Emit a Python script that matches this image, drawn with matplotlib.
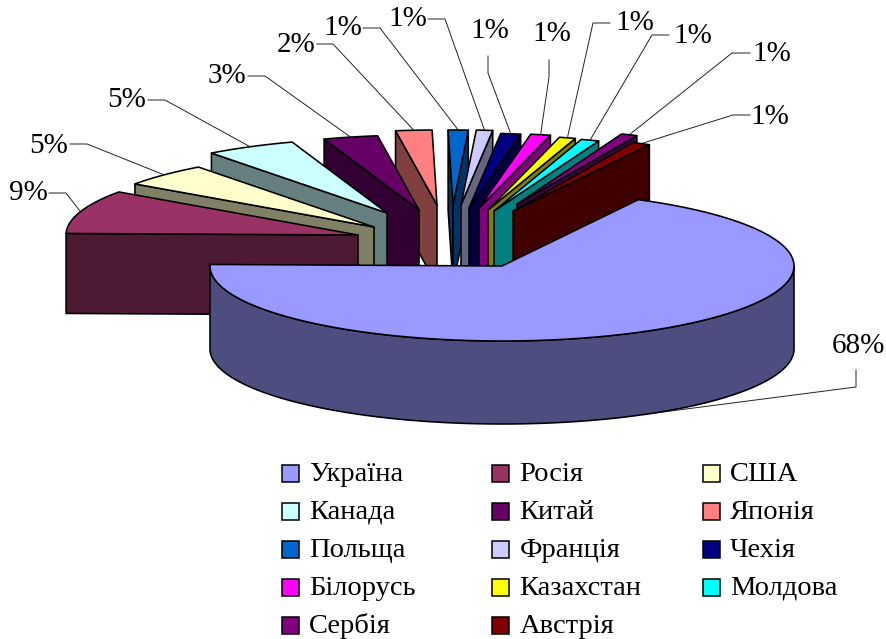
import numpy as np
import matplotlib
matplotlib.use("Agg")
import matplotlib.pyplot as plt
from matplotlib.patches import Polygon, Rectangle

# ---- data ----
countries = ["Україна", "Росія", "США", "Канада", "Китай", "Японія", "Польща",
             "Франція", "Чехія", "Білорусь", "Казахстан", "Молдова", "Сербія", "Австрія"]
shares = [67.6, 9.4, 5.0, 5.0, 3.0, 2.0, 1.1, 0.9, 1.1, 1.1, 0.9, 1.0, 0.9, 1.0]

# ---- style ----
colors = ["#9999FF", "#993366", "#FFFFCC", "#CCFFFF", "#660066", "#FF8080", "#0066CC",
          "#CCCCFF", "#000080", "#FF00FF", "#FFFF00", "#00FFFF", "#800080", "#800000"]
# per-slice explode distance, as in pie(explode=...), split into two screen components
explode_x = [50, -94, -78, -65, -33, -15, 1, 9, 17, 27, 36, 42, 65, 61]
explode_y = [26, -5, -13, -27, -30, -35, -35, -35, -32, -32, -30, -29, -36, -29]
depths = [83] + [80] * 13
PIE_X, PIE_Y = 452, 240
RX, RY = 292, 75
END_ANGLE = -181.2          # clockwise angle where the first slice ends
LW = 1.15

# label centre, leader start, leader elbow (annotation layout)
label_xy = [(858, 346), (28, 193), (49, 146), (127, 100), (227, 76), (296, 45), (343, 28),
            (408, 19), (490, 31), (552, 34), (635, 23), (693, 36), (772, 54), (770, 117)]
leader_start = [(856, 370), (49, 193), (70, 144), (148, 100), (248, 76), (317, 44), (363, 28),
                (428, 19), (488, 56), (549, 60), (610, 23), (669, 35), (750, 53), (750, 115)]
leader_elbow = [(856, 387), (66, 193), (87, 144), (165, 100), (265, 76), (333, 44), (380, 28),
                (445, 19), (488, 73), (549, 77), (593, 23), (652, 35), (732, 53), (733, 115)]

plt.rcParams["font.family"] = ["Liberation Serif", "DejaVu Serif"]
fig = plt.figure(figsize=(8.86, 6.39), dpi=100)
ax = fig.add_axes([0, 0, 1, 1])
ax.set_xlim(0, 886)
ax.set_ylim(639, 0)
ax.axis("off")

vals = np.array(shares, dtype=float)
sweep = vals / vals.sum() * 360.0
first_start = END_ANGLE + sweep[0]
starts = first_start - np.concatenate(([0], np.cumsum(sweep)[:-1]))
ends = starts - sweep
centers = [(PIE_X + dx, PIE_Y + dy) for dx, dy in zip(explode_x, explode_y)]


def rim(c, a):
    a = np.radians(a)
    return np.column_stack((c[0] + RX * np.cos(a), c[1] - RY * np.sin(a)))


def dark(col):
    return tuple(0.5 * v for v in matplotlib.colors.to_rgb(col))


def poly(pts, fc, z):
    ax.add_patch(Polygon(pts, closed=True, facecolor=fc, edgecolor="black",
                         linewidth=LW, joinstyle="round", zorder=z))


def draw_slice(i, z):
    c, a0, a1 = centers[i], starts[i], ends[i]
    side = dark(colors[i])
    down = np.array([0, depths[i]])
    apex = np.array(c, dtype=float)
    for a, visible in ((a0, np.cos(np.radians(a0)) < 0), (a1, np.cos(np.radians(a1)) > 0)):
        if visible:
            p = rim(c, a)[0]
            poly([apex, p, p + down, apex + down], side, z)
    # outer wall: only the part of the rim on the near side
    lo, hi = max(a1, -180.0), min(a0, 0.0)
    if hi > lo:
        arc = rim(c, np.linspace(hi, lo, 120))
        poly(np.vstack((arc, (arc + down)[::-1])), side, z)
    arc = rim(c, np.linspace(a0, a1, max(8, int(sweep[i] * 2))))
    poly(np.vstack(([apex], arc)), colors[i], z + 0.5)


# painter's order: right fan, then left fan, then the big slice in front
order = list(range(6, 14)) + list(range(5, 0, -1)) + [0]
for z, i in enumerate(order):
    draw_slice(i, 2 + z)

# leaders and percentage labels
for i, share in enumerate(vals):
    mid = (starts[i] + ends[i]) / 2
    tip = rim(centers[i], mid)[0]
    if np.sin(np.radians(mid)) < 0:
        tip = tip + [0, depths[i]]
    xs = [leader_start[i][0], leader_elbow[i][0], tip[0]]
    ys = [leader_start[i][1], leader_elbow[i][1], tip[1]]
    ax.plot(xs, ys, color="#222222", lw=0.7, zorder=1, solid_joinstyle="miter")
    ax.text(*label_xy[i], f"{share / vals.sum() * 100:.0f}%", fontsize=21,
            ha="center", va="center", color="black", zorder=30)

# legend: three columns, row by row
LEG_X, LEG_Y, COL_W, ROW_H, BOX = 282, 473, 210.5, 38, 17
for i, (name, col) in enumerate(zip(countries, colors)):
    r, k = divmod(i, 3)
    x, y = LEG_X + k * COL_W, LEG_Y + r * ROW_H
    ax.add_patch(Rectangle((x, y - BOX / 2), BOX, BOX, facecolor=col, edgecolor="black",
                           linewidth=1.1, zorder=30))
    ax.text(x + 27, y + 8, name, fontsize=20.5, ha="left", va="baseline", color="black", zorder=30)

fig.savefig("out.png", dpi=100, facecolor="white")
